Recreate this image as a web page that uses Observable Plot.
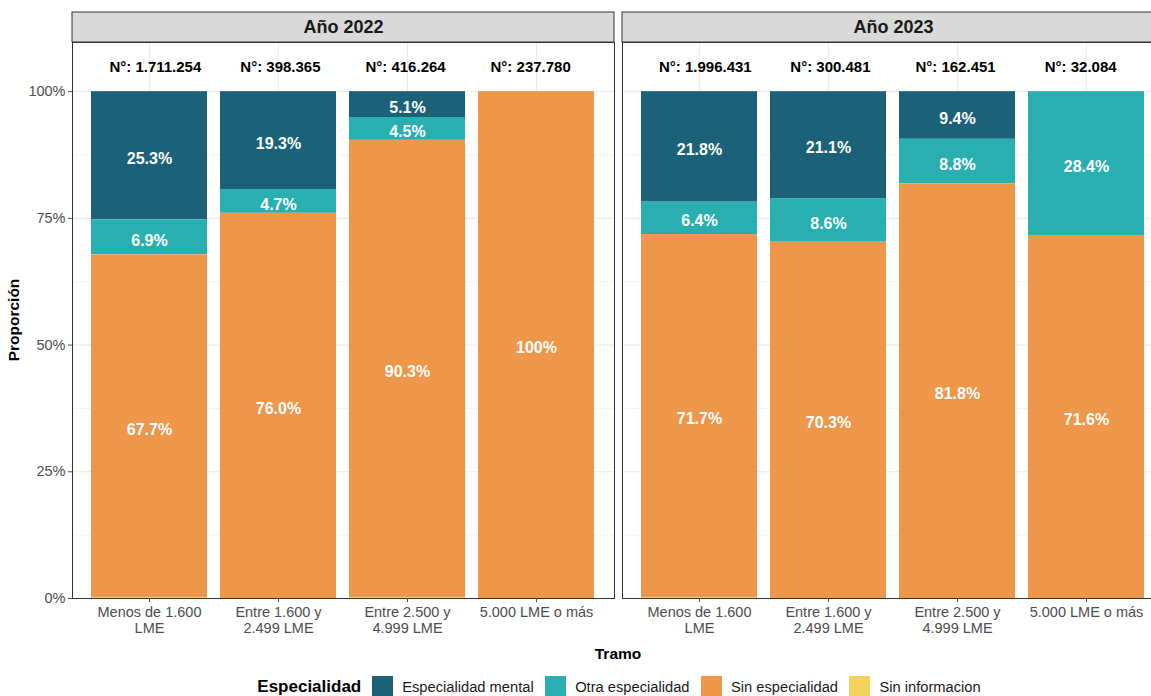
<!DOCTYPE html>
<html>
<head>
<meta charset="utf-8">
<script src="https://cdn.jsdelivr.net/npm/d3@7"></script>
<script src="https://cdn.jsdelivr.net/npm/@observablehq/plot@0.6"></script>
<style>
html, body { margin: 0; padding: 0; background: #fff; overflow: hidden; width: 1151px; height: 696px; }
#wrap { position: relative; width: 1170px; height: 696px; font-family: "Liberation Sans", Arial, sans-serif; }
#legend { position: absolute; left: 0; top: 676px; width: 1238px; display: flex; justify-content: center; align-items: flex-start; font-family: "Liberation Sans", Arial, sans-serif; }
#legend .title { font-weight: bold; font-size: 17px; color: #000; margin-right: 11px; line-height: 22px; }
#legend .sw { width: 21px; height: 21px; margin-right: 9px; }
#legend .lab { font-size: 14.7px; color: #1a1a1a; margin-right: 11.5px; line-height: 22px; }
#legend .lab:last-child { margin-right: 0; }
</style>
</head>
<body>
<div id="wrap"><div id="chart"></div><div id="legend"></div></div>
<script>
// ---- Data ----
const years = ["Año 2022", "Año 2023"];
const tramos = ["Menos de 1.600\nLME", "Entre 1.600 y\n2.499 LME", "Entre 2.500 y\n4.999 LME", "5.000 LME o más"];
const especialidades = ["Especialidad mental", "Otra especialidad", "Sin especialidad", "Sin informacion"];
const colores = ["#1B6279", "#2AAFB0", "#EE974B", "#F2D15C"];

const mental2022 = [25.3, 19.3, 5.1, 0];
const otra2022   = [6.9, 4.7, 4.5, 0];
const sin2022    = [67.7, 76.0, 90.3, 100];
const info2022   = [0.1, 0, 0.1, 0];

const mental2023 = [21.8, 21.1, 9.4, 0];
const otra2023   = [6.4, 8.6, 8.8, 28.4];
const sin2023    = [71.7, 70.3, 81.8, 71.6];
const info2023   = [0.1, 0, 0, 0];

const n2022 = [1711254, 398365, 416264, 237780];
const n2023 = [1996431, 300481, 162451, 32084];

const yTicks = [0, 0.25, 0.5, 0.75, 1];
const yMinor = [0.125, 0.375, 0.625, 0.875];

// ---- Build tables ----
const series = {
  "Año 2022": [mental2022, otra2022, sin2022, info2022],
  "Año 2023": [mental2023, otra2023, sin2023, info2023]
};
const counts = { "Año 2022": n2022, "Año 2023": n2023 };
const rows = [];
years.forEach(y => especialidades.forEach((e, i) => tramos.forEach((t, j) => {
  rows.push({ year: y, esp: e, tramo: t, value: series[y][i][j] });
})));
const nRows = years.flatMap(y => tramos.map((t, j) => ({ year: y, tramo: t, n: counts[y][j] })));

const stackOrder = especialidades.slice().reverse();
const locale = d3.formatLocale({ decimal: ",", thousands: ".", grouping: [3], currency: ["$", ""] });
const fmtN = locale.format(",d");
const fmtP = v => v >= 1 ? (v === 100 ? "100%" : v.toFixed(1) + "%") : null;

// ---- Layout ----
const W = 1170, H = 668, mT = 42, mB = 70;
const panelPx = H - mB - mT;
const yTop = 1.097;
const yStrip = yTop * (1 + 30 / panelPx);

// count labels sit slightly drawn toward the panel centre in the original
const nLabelMarks = tramos.map((t, j) => Plot.text(nRows.filter(d => d.tramo === t), {
  fx: "year", x: "tramo", text: d => "N°: " + fmtN(d.n),
  frameAnchor: "top", lineAnchor: "middle", dy: 25, dx: ((tramos.length - 1) / 2 - j) * 3.9,
  fontWeight: "bold", fontSize: 15, fill: "#000"
}));

const chart = Plot.plot({
  width: W, height: H,
  marginLeft: 72, marginRight: 6, marginTop: mT, marginBottom: mB,
  style: { fontFamily: "Liberation Sans, Arial, sans-serif", background: "white", overflow: "visible" },
  fx: { domain: years, paddingInner: 8 / 550, paddingOuter: 0, axis: null, label: null },
  x: { domain: tramos, paddingInner: 0.1, paddingOuter: 0.15, axis: null, label: null },
  y: { domain: [0, yTop], axis: null, label: null },
  color: { domain: especialidades, range: colores },
  marks: [
    Plot.gridY(yMinor, { stroke: "#EBEBEB", strokeOpacity: 1, strokeWidth: 0.6 }),
    Plot.gridY(yTicks, { stroke: "#EBEBEB", strokeOpacity: 1, strokeWidth: 1.1 }),
    Plot.gridX({ stroke: "#EBEBEB", strokeOpacity: 1, strokeWidth: 1.1 }),
    Plot.barY(rows, Plot.stackY({ fx: "year", x: "tramo", y: "value", fill: "esp", order: stackOrder, offset: "normalize" })),
    Plot.text(rows, Plot.stackY({
      fx: "year", x: "tramo", y: "value", z: "esp", order: stackOrder, offset: "normalize",
      text: d => fmtP(d.value), fill: "white", fontWeight: "bold", fontSize: 16, dy: 3
    })),
    ...nLabelMarks,
    Plot.frame({ stroke: "#333333", strokeWidth: 1 }),
    Plot.rect(years, { fx: d => d, y1: yTop, y2: yStrip, fill: "#D9D9D9", stroke: "#333333", strokeWidth: 1 }),
    Plot.text(years, { fx: d => d, text: d => d, frameAnchor: "top", lineAnchor: "middle", dy: -15, fontWeight: "bold", fontSize: 18, fill: "#1A1A1A" }),
    Plot.axisY(yTicks, { tickFormat: d => Math.round(d * 100) + "%", tickSize: 4, tickPadding: 3, fontSize: 14.5, color: "#4D4D4D", label: null }),
    Plot.axisX({ tickSize: 4, tickPadding: 3, fontSize: 14.5, lineHeight: 1.1, color: "#4D4D4D", label: null })
  ]
});

// Axis titles
const svg = d3.select(chart);
svg.append("text")
  .attr("transform", `translate(15,${(mT + H - mB) / 2}) rotate(-90)`)
  .attr("text-anchor", "middle").attr("dominant-baseline", "middle")
  .attr("font-weight", "bold").attr("font-size", 15.5).attr("fill", "#000")
  .attr("font-family", "Liberation Sans, Arial, sans-serif")
  .text("Proporción");
svg.append("text")
  .attr("x", (72 + W - 6) / 2).attr("y", 655)
  .attr("text-anchor", "middle").attr("dominant-baseline", "middle")
  .attr("font-weight", "bold").attr("font-size", 15.5).attr("fill", "#000")
  .attr("font-family", "Liberation Sans, Arial, sans-serif")
  .text("Tramo");

document.getElementById("chart").appendChild(chart);

// Legend
const leg = d3.select("#legend");
leg.append("span").attr("class", "title").text("Especialidad");
especialidades.forEach((e, i) => {
  leg.append("span").attr("class", "sw").style("background", colores[i]);
  leg.append("span").attr("class", "lab").text(e);
});
</script>
</body>
</html>
